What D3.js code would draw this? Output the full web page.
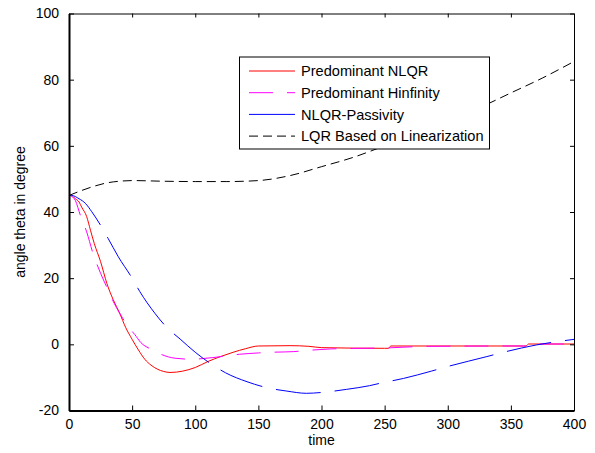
<!DOCTYPE html>
<html>
  <head>
    <meta charset="utf-8">
    <title>angle theta in degree</title>
    <script src="https://cdn.jsdelivr.net/npm/d3@7"></script>
    <style>
      body { margin: 0; background: #fff; }
      svg { font-family: "Liberation Sans", Arial, sans-serif; }
      .tick text { font-size: 14px; fill: #000; }
      .label { font-size: 14px; fill: #000; }
      .legendText { font-size: 14.6px; fill: #000; }
    </style>
  </head>

  <body>
    <svg id="chart" width="595" height="453">
      <rect width="595" height="453" fill="#fff"></rect>
      <g id="lines"></g>
      <g id="axes"></g>
      <g id="legend"></g>
    </svg>

    <script>
      // data
      xTicks = [0, 50, 100, 150, 200, 250, 300, 350, 400];
      yTicks = [-20, 0, 20, 40, 60, 80, 100];

      nlqrTime  = [0, 2, 5, 8, 10, 14, 17, 20, 25, 30, 35, 40, 45, 50, 55, 60, 65, 70, 75, 80, 85, 90, 100, 110, 120, 130, 140, 150, 175, 190, 200, 250, 253, 255, 360, 362, 364, 400];
      nlqrTheta = [45, 45, 44, 43, 41.5, 38.6, 34.5, 30.5, 25, 18.4, 13.5, 9.5, 5, 1.5, -1.7, -4.5, -6.3, -7.5, -8.2, -8.5, -8.4, -8.1, -7, -5.2, -3.7, -2.4, -1.3, -0.5, -0.4, -0.6, -1.0, -1.2, -1.2, -0.5, -0.5, -0.5, 0.1, 0.1];

      hinfTime  = [0, 3, 5, 9, 14, 19, 25, 31, 35, 40, 47, 52, 57, 65, 71, 84, 97, 114, 135, 150, 160, 178, 190, 207, 230, 250, 285, 360, 362, 364, 400];
      hinfTheta = [45, 44.5, 43.5, 39, 34, 27.5, 21.5, 16.4, 13, 9.5, 5.3, 3, 0.5, -1.5, -2.7, -4.2, -4.5, -4.0, -3.0, -2.6, -2.4, -2.2, -1.8, -1.4, -1.2, -1.1, -0.6, -0.5, -0.5, 0.1, 0.1];

      passTime  = [0, 2, 8, 13, 18, 25, 31, 39, 50, 56, 68, 77, 88, 100, 114, 124, 141, 159, 172, 188, 204, 220, 238, 246, 265, 287, 299, 331, 343, 370, 400];
      passTheta = [45, 45, 44, 42.6, 40.1, 36, 32, 26.5, 20, 16, 9.4, 5.3, 1.6, -2.4, -6.3, -8.6, -11.3, -13.3, -14.1, -14.8, -14.4, -13.6, -12.5, -11.8, -10.3, -8.1, -6.8, -3.7, -2.5, -0.2, 1.5];

      lqrTime  = [0, 10, 20, 30, 40, 50, 75, 100, 125, 150, 175, 200, 225, 250, 275, 300, 325, 350, 375, 400];
      lqrTheta = [45, 46.5, 47.8, 48.8, 49.3, 49.5, 49.3, 49.2, 49.2, 49.5, 51, 53.7, 56.5, 60, 63.5, 67.5, 71.5, 76, 80.5, 85.5];

      seriesNames = ["Predominant NLQR", "Predominant Hinfinity", "NLQR-Passivity", "LQR Based on Linearization"];
      seriesColours = ["#ff0000", "#ff00ff", "#0000ff", "#000000"];
      seriesDashes = [null, "24,14", "45,14", "9,5"];
      legendDashes = [null, "24,14", null, "9,5"];

      series = [
        [nlqrTime, nlqrTheta],
        [hinfTime, hinfTheta],
        [passTime, passTheta],
        [lqrTime, lqrTheta]
      ].map(function(s) {
        return s[0].map(function(t, i) { return { t: t, v: s[1][i] }; });
      });

      // page elements
      chart = d3.select("#chart");
      lines = d3.select("#lines");
      axes = d3.select("#axes");
      legend = d3.select("#legend");

      // plot box
      left = 69;
      right = 574;
      top_ = 13.5;
      bottom = 410.5;

      x = d3.scaleLinear().domain([0, 400]).range([left, right]);
      y = d3.scaleLinear().domain([-20, 100]).range([bottom, top_]);
      plain = function(d) { return String(d); }; // hyphen minus like the original

      line = d3.line()
        .x(function(d) { return x(d.t); })
        .y(function(d) { return y(d.v); })
        .curve(d3.curveMonotoneX);

      lines.selectAll("path")
        .data(series)
      .enter().append("path")
        .attr("d", line)
        .attr("fill", "none")
        .attr("stroke", function(d, i) { return seriesColours[i]; })
        .attr("stroke-width", 1)
        .attr("stroke-dasharray", function(d, i) { return seriesDashes[i]; });

      // axes, ticks pointing inward on all four sides
      axes.append("g")
        .attr("transform", "translate(0," + bottom + ")")
        .call(d3.axisBottom(x).tickValues(xTicks).tickFormat(plain).tickSize(-5).tickPadding(9).tickSizeOuter(0))
        .call(function(g) { g.select(".domain").attr("stroke-width", 2); });
      axes.append("g")
        .attr("transform", "translate(0," + top_ + ")")
        .call(d3.axisTop(x).tickValues(xTicks).tickSize(-4).tickFormat("").tickSizeOuter(0));
      axes.append("g")
        .attr("transform", "translate(" + left + ",0)")
        .call(d3.axisLeft(y).tickValues(yTicks).tickFormat(plain).tickSize(-5).tickPadding(10).tickSizeOuter(0))
        .call(function(g) { g.select(".domain").attr("stroke-width", 2); });
      axes.append("g")
        .attr("transform", "translate(" + right + ",0)")
        .call(d3.axisRight(y).tickValues(yTicks).tickSize(-4).tickFormat("").tickSizeOuter(0));
      axes.selectAll(".tick text").attr("font-family", null).attr("font-size", null);

      axes.append("text")
        .attr("class", "label")
        .attr("x", (left + right) / 2)
        .attr("y", 445)
        .attr("text-anchor", "middle")
        .text("time");
      axes.append("text")
        .attr("class", "label")
        .attr("transform", "translate(25," + ((top_ + bottom) / 2) + ") rotate(-90)")
        .attr("text-anchor", "middle")
        .text("angle theta in degree");

      // legend
      legend.append("rect")
        .attr("x", 239.5)
        .attr("y", 57)
        .attr("width", 250)
        .attr("height", 92)
        .attr("fill", "#fff")
        .attr("stroke", "#000")
        .attr("stroke-width", 1);
      rows = legend.selectAll(".row")
        .data(seriesNames)
      .enter().append("g")
        .classed("row", true)
        .attr("transform", function(d, i) { return "translate(0," + (71 + i * 21.7) + ")"; });
      rows.append("line")
        .attr("x1", 249)
        .attr("x2", 295)
        .attr("stroke", function(d, i) { return seriesColours[i]; })
        .attr("stroke-dasharray", function(d, i) { return legendDashes[i]; });
      rows.append("text")
        .attr("class", "legendText")
        .attr("x", 301)
        .attr("dy", "0.35em")
        .text(function(d) { return d; });
    </script>
  </body>
</html>
